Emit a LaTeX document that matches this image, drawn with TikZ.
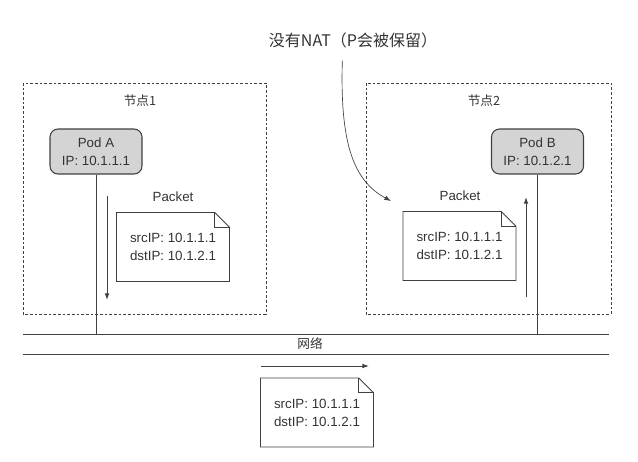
\documentclass[tikz,border=0pt]{standalone}
\usepackage{fontspec}
\setmainfont{Liberation Sans}
\newfontfamily\cjk{Noto Sans CJK SC}
\usetikzlibrary{arrows.meta}

\tikzset{every picture/.style={line width=0.75pt}}
\tikzset{
  wire/.style={draw=black!75, line width=0.7pt},
  nodebox/.style={draw=black!75, line width=0.6pt, dash pattern={on 2pt off 1.5pt}},
  podbox/.style={draw=black!75, line width=0.8pt, fill=black!17, rounded corners=6pt,
    minimum width=69pt, minimum height=33.75pt, align=center, inner sep=0pt,
    font=\fontsize{10}{13.5}\selectfont, text=black!80},
  packet/.style={minimum width=84pt, minimum height=51pt, align=left, inner sep=0pt,
    font=\fontsize{10}{13.5}\selectfont, text=black!80},
  pktlabel/.style={font=\fontsize{10}{12}\selectfont, text=black!80, inner sep=0.75pt},
  cjklabel/.style={font=\cjk\fontsize{9.5}{11}\selectfont, text=black!80, inner sep=0.75pt},
  flow/.style={draw=black!75, line width=0.7pt, -{Latex[length=5pt,width=3.5pt]}}
}

\begin{document}
\begin{tikzpicture}[x=0.75pt,y=0.75pt,yscale=-1,xscale=1]
\useasboundingbox (0,0) rectangle (638,461);
%Shape: Rectangle [node 1]
\draw [nodebox] (23,83) rectangle (266,314);
%Shape: Rectangle [node 2]
\draw [nodebox] (366,83) rectangle (611,314);
% Text Node
\node [cjklabel] (nodeAlbl) at (140,101) {节点1};
% Text Node
\node [cjklabel] (nodeBlbl) at (484,101) {节点2};

%Straight Lines [network]
\coordinate (netTL) at (23,334);
\coordinate (netTR) at (609,334);
\coordinate (netBL) at (23,354);
\coordinate (netBR) at (609,354);
\draw [wire] (netTL) -- (netTR);
\draw [wire] (netBL) -- (netBR);
% Text Node
\node [cjklabel] (net) at (310,344) {网络};

%Shape: Rounded Rect [pods]
\node [podbox] (podA) at (96,151.5) {Pod A\\IP: 10.1.1.1};
\node [podbox] (podB) at (537.5,151.5) {Pod B\\IP: 10.1.2.1};
\draw [wire] (podA.south) -- (podA.south |- netTL);
\draw [wire] (podB.south) -- (podB.south |- netTR);

%Shape: Document [packets]
\node [packet] (pktA) at (173,247) {srcIP: 10.1.1.1\\dstIP: 10.1.2.1};
\node [packet] (pktB) at (459.5,246) {srcIP: 10.1.1.1\\dstIP: 10.1.2.1};
\node [packet] (pktN) at (317,412.5) {srcIP: 10.1.1.1\\dstIP: 10.1.2.1};
\foreach \p in {pktA,pktB,pktN}{
  \draw [wire] (\p.south west) -- (\p.north west) -- ([xshift=-11pt]\p.north east)
    -- ([yshift=11pt]\p.north east) -- (\p.south east) -- cycle;
  \draw [wire] ([xshift=-11pt]\p.north east) |- ([yshift=11pt]\p.north east);
}
% Text Node
\node [pktlabel] (pktAlbl) at (173,197) {Packet};
% Text Node
\node [pktlabel] (pktBlbl) at (460,196) {Packet};

%Straight Lines [flow arrows]
\coordinate (downS) at (107,196);
\coordinate (downE) at (107,300);
\coordinate (upS) at (526,297);
\coordinate (upE) at (526,197);
\coordinate (netS) at (261,366);
\coordinate (netE) at (369,366);
\draw [flow] (downS) -- (downE);
\draw [flow] (upS) -- (upE);
\draw [flow] (netS) -- (netE);

% Text Node
\node [font=\cjk\fontsize{12}{14}\selectfont, text=black!80] (nat) at (353,40) {没有NAT（P会被保留）};
%Curve Lines
\coordinate (natTip) at (391,201);
\draw [flow, line width=0.5pt] ([xshift=-8pt,yshift=6pt]nat.south) .. controls (340,140) and (352,180) .. (natTip);
\end{tikzpicture}
\end{document}
